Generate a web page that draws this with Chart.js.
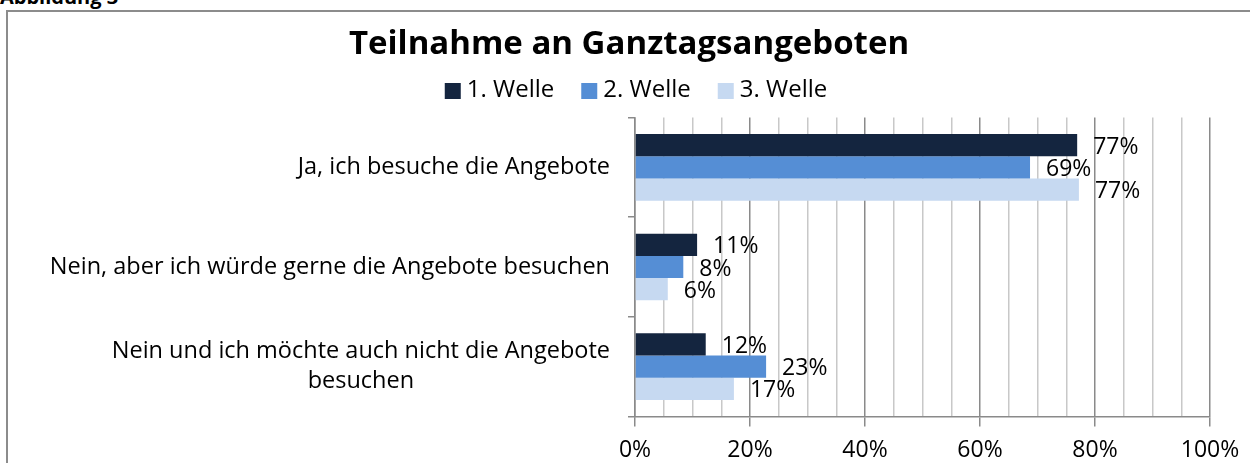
<!DOCTYPE html>
<html lang="de">
<head>
    <meta charset="UTF-8">
    <title>Teilnahme an Ganztagsangeboten</title>
    <style>
        body {
            margin: 0;
            width: 1250px;
            height: 463px;
            overflow: hidden;
            background: #fff;
            position: relative;
            font-family: 'Open Sans', sans-serif;
        }
        .caption {
            position: absolute;
            left: 0;
            top: -13px;
            font-size: 20px;
            line-height: 20px;
            font-weight: bold;
        }
        .frame {
            position: absolute;
            left: 6px;
            top: 10px;
            width: 1300px;
            height: 500px;
            border: 2px solid #8c8c8c;
        }
        #chartBox {
            position: absolute;
            left: 8px;
            top: 12px;
            width: 1242px;
            height: 462px;
        }
    </style>
</head>
<body>
<div class="caption">Abbildung 3</div>
<div class="frame"></div>
<div id="chartBox">
    <canvas id="chart"></canvas>
</div>

<script src="https://cdn.jsdelivr.net/npm/chart.js"></script>
<script>
  const categories = [
    ['Ja, ich besuche die Angebote'],
    ['Nein, aber ich würde gerne die Angebote besuchen'],
    ['Nein und ich möchte auch nicht die Angebote', 'besuchen']
  ];
  const seriesNames = ['1. Welle', '2. Welle', '3. Welle'];
  const welle1 = [76.9, 10.8, 12.3];
  const welle2 = [68.7, 8.4, 22.8];
  const welle3 = [77.2, 5.7, 17.2];
  const colors = ['#14253f', '#558ed5', '#c6d9f1'];
  const tickLabels = ['0%', '20%', '40%', '60%', '80%', '100%'];

  const FONT = "'Open Sans', sans-serif";
  const SIDE_PAD = 40;
  const PLOT_LEFT = 627; // left edge of plot inside the canvas

  // value labels right of the bars
  const barLabels = {
    id: 'barLabels',
    afterDatasetsDraw(chart) {
      const ctx = chart.ctx;
      ctx.save();
      ctx.font = '23px ' + FONT;
      ctx.fillStyle = '#000';
      ctx.textAlign = 'left';
      ctx.textBaseline = 'middle';
      chart.data.datasets.forEach((ds, i) => {
        chart.getDatasetMeta(i).data.forEach((bar, j) => {
          ctx.fillText(Math.round(ds.data[j]) + '%', bar.x + 16, bar.y + 2);
        });
      });
      ctx.restore();
    }
  };

  // category labels: block right aligned, lines centred inside the block
  const catLabels = {
    id: 'catLabels',
    afterDraw(chart) {
      const ctx = chart.ctx;
      const y = chart.scales.y;
      ctx.save();
      ctx.font = '23.5px ' + FONT;
      ctx.fillStyle = '#000';
      ctx.textAlign = 'center';
      ctx.textBaseline = 'middle';
      const right = chart.chartArea.left - 25;
      const lh = 30;
      categories.forEach((lines, i) => {
        const w = Math.max(...lines.map(l => ctx.measureText(l).width));
        const cx = right - w / 2;
        const cy = y.getPixelForValue(i);
        lines.forEach((l, k) => {
          ctx.fillText(l, cx, cy + (k - (lines.length - 1) / 2) * lh);
        });
      });
      ctx.restore();
    }
  };

  // legend row under the title (small boxes, wide gaps)
  const legendRow = {
    id: 'legendRow',
    afterDraw(chart) {
      const ctx = chart.ctx;
      ctx.save();
      ctx.font = '24px ' + FONT;
      ctx.textBaseline = 'middle';
      ctx.textAlign = 'left';
      const box = 16, gap = 6, sep = 27;
      const widths = seriesNames.map(n => box + gap + ctx.measureText(n).width);
      const total = widths.reduce((a, b) => a + b, 0) + sep * (seriesNames.length - 1);
      let x = chart.width / 2 + 7 - total / 2;
      const cy = 78;
      seriesNames.forEach((n, i) => {
        ctx.fillStyle = colors[i];
        ctx.fillRect(x, cy - box / 2 + 1, box, box);
        ctx.fillStyle = '#000';
        ctx.fillText(n, x + box + gap, cy);
        x += widths[i] + sep;
      });
      ctx.restore();
    }
  };

  const ctx = document.getElementById('chart').getContext('2d');
  new Chart(ctx, {
    type: 'bar',
    data: {
      labels: categories,
      datasets: seriesNames.map((name, i) => ({
        label: name,
        data: [welle1, welle2, welle3][i],
        backgroundColor: colors[i],
        categoryPercentage: 0.67,
        barPercentage: 1.0
      }))
    },
    options: {
      indexAxis: 'y',
      responsive: true,
      maintainAspectRatio: false,
      animation: false,
      layout: { padding: { left: SIDE_PAD, right: SIDE_PAD, top: 0, bottom: 0 } },
      plugins: {
        title: {
          display: true,
          text: 'Teilnahme an Ganztagsangeboten',
          color: '#000',
          font: { family: FONT, size: 33, weight: 'bold' },
          padding: { top: 13, bottom: 53 }
        },
        legend: { display: false },
        tooltip: { enabled: false }
      },
      scales: {
        x: {
          min: 0,
          max: 100,
          ticks: {
            stepSize: 5,
            autoSkip: false,
            maxRotation: 0,
            color: '#000',
            font: { family: FONT, size: 23 },
            padding: 10,
            callback: v => (v % 20 === 0 ? tickLabels[v / 20] : '')
          },
          grid: {
            color: c => (c.tick && c.tick.value % 20 === 0 ? '#8a8a8a' : '#c8c8c8'),
            tickColor: c => (c.tick && c.tick.value % 20 === 0 ? '#8a8a8a' : 'rgba(0,0,0,0)'),
            tickLength: 10,
            lineWidth: 1.5
          },
          border: { color: '#8a8a8a', width: 1.5 }
        },
        y: {
          ticks: { display: false },
          grid: {
            offset: true,
            drawOnChartArea: false,
            color: '#8a8a8a',
            tickLength: 7,
            lineWidth: 1.5
          },
          border: { color: '#8a8a8a', width: 1.5 },
          afterFit(scale) {
            scale.width = PLOT_LEFT - SIDE_PAD;
          }
        }
      }
    },
    plugins: [barLabels, catLabels, legendRow]
  });
</script>
</body>
</html>
